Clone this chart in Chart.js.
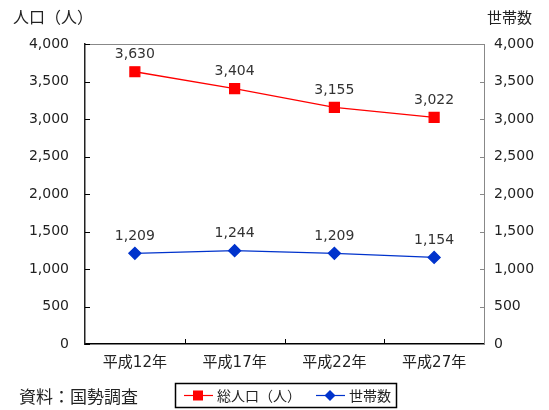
<!DOCTYPE html>
<html>
<head>
<meta charset="utf-8">
<script src="https://cdn.jsdelivr.net/npm/chart.js@4"></script>
<style>
  html, body { margin: 0; padding: 0; background: #fff; }
  #wrap { width: 549px; height: 410px; position: relative; }
</style>
</head>
<body>
<div id="wrap"><canvas id="popChart" width="549" height="410"></canvas></div>
<script>
// data
const categories = ['平成12年', '平成17年', '平成22年', '平成27年'];
const population = [3630, 3404, 3155, 3022];
const households = [1209, 1244, 1209, 1154];
const yTicks = [0, 500, 1000, 1500, 2000, 2500, 3000, 3500, 4000];

const FONT = '"DejaVu Sans", "Noto Sans CJK JP", sans-serif';
const JP = '"Noto Sans CJK JP", sans-serif';
const RED = '#ff0000';
const BLUE = '#0033cc';

function fmt(v) {
  return v.toLocaleString('en-US');
}

// labels, titles, inward ticks, top border, source note and legend
const extrasPlugin = {
  id: 'extras',
  afterDraw(chart) {
    const ctx = chart.ctx;
    const area = chart.chartArea;
    const x = chart.scales.x;
    const y = chart.scales.y;
    ctx.save();

    // top border
    ctx.strokeStyle = '#888';
    ctx.lineWidth = 1;
    ctx.beginPath();
    ctx.moveTo(area.left, area.top + 0.5);
    ctx.lineTo(area.right, area.top + 0.5);
    ctx.stroke();

    // inward ticks on the category axis
    ctx.strokeStyle = '#000';
    ctx.beginPath();
    for (let i = 1; i < categories.length; i++) {
      const px = Math.round((x.getPixelForValue(i - 1) + x.getPixelForValue(i)) / 2) + 0.5;
      ctx.moveTo(px, area.bottom);
      ctx.lineTo(px, area.bottom - 5);
    }
    ctx.stroke();

    // inward ticks on both value axes
    yTicks.forEach(v => {
      const py = Math.round(y.getPixelForValue(v)) + 0.5;
      ctx.strokeStyle = '#000';
      ctx.beginPath();
      ctx.moveTo(area.left, py); ctx.lineTo(area.left + 5, py);
      ctx.stroke();
      ctx.strokeStyle = '#888';
      ctx.beginPath();
      ctx.moveTo(area.right, py); ctx.lineTo(area.right - 4, py);
      ctx.stroke();
    });

    // value labels
    ctx.fillStyle = '#333';
    ctx.font = '14px ' + FONT;
    ctx.textAlign = 'center';
    ctx.textBaseline = 'bottom';
    chart.data.datasets.forEach((ds, di) => {
      chart.getDatasetMeta(di).data.forEach((pt, i) => {
        ctx.fillText(fmt(ds.data[i]), pt.x, pt.y - 10);
      });
    });

    // axis titles
    ctx.fillStyle = '#222';
    ctx.textBaseline = 'middle';
    ctx.textAlign = 'left';
    ctx.font = '16px ' + JP;
    ctx.fillText('人口（人）', 13, 17);
    ctx.font = '15px ' + JP;
    ctx.fillText('世帯数', 487, 17);

    // source note
    ctx.font = '17px ' + JP;
    ctx.fillText('資料：国勢調査', 19, 397);

    // legend box
    const lx = 175, ly = 383, lw = 221, lh = 24;
    ctx.strokeStyle = '#000';
    ctx.lineWidth = 1.5;
    ctx.strokeRect(lx + 0.5, ly + 0.5, lw, lh);
    const my = ly + lh / 2 + 0.5;
    // red item
    ctx.strokeStyle = RED;
    ctx.lineWidth = 1.2;
    ctx.beginPath();
    ctx.moveTo(184, my); ctx.lineTo(213, my);
    ctx.stroke();
    ctx.fillStyle = RED;
    ctx.fillRect(193, my - 5, 10, 10);
    // blue item
    ctx.strokeStyle = BLUE;
    ctx.beginPath();
    ctx.moveTo(316, my); ctx.lineTo(345, my);
    ctx.stroke();
    ctx.fillStyle = BLUE;
    ctx.beginPath();
    ctx.moveTo(330, my - 5.5); ctx.lineTo(335.5, my); ctx.lineTo(330, my + 5.5); ctx.lineTo(324.5, my);
    ctx.closePath();
    ctx.fill();
    ctx.fillStyle = '#222';
    ctx.font = '14px ' + JP;
    ctx.fillText('総人口（人）', 217, my);
    ctx.fillText('世帯数', 349, my);

    ctx.restore();
  }
};

const ctx = document.getElementById('popChart').getContext('2d');
new Chart(ctx, {
  type: 'line',
  data: {
    labels: categories,
    datasets: [
      {
        label: '総人口（人）',
        data: population,
        borderColor: RED,
        backgroundColor: RED,
        borderWidth: 1.3,
        pointStyle: 'rect',
        pointRadius: 7,
        pointHoverRadius: 7,
        yAxisID: 'y'
      },
      {
        label: '世帯数',
        data: households,
        borderColor: BLUE,
        backgroundColor: BLUE,
        borderWidth: 1.3,
        pointStyle: 'rectRot',
        pointRadius: 6,
        pointHoverRadius: 6,
        yAxisID: 'y1'
      }
    ]
  },
  options: {
    responsive: false,
    animation: false,
    layout: { padding: { top: 44, bottom: 0, left: 0, right: 0 } },
    plugins: {
      legend: { display: false },
      tooltip: { enabled: false }
    },
    scales: {
      x: {
        offset: true,
        grid: { display: true, drawOnChartArea: false, drawTicks: false, offset: true },
        border: { color: '#000', width: 1.5 },
        ticks: { color: '#222', font: { family: FONT, size: 15 }, padding: 10 },
        afterFit(scale) { scale.height = 66; }
      },
      y: {
        position: 'left',
        min: 0,
        max: 4000,
        afterBuildTicks(scale) { scale.ticks = yTicks.map(v => ({ value: v })); },
        grid: { drawOnChartArea: false, drawTicks: false },
        border: { color: '#222', width: 1.5 },
        ticks: { color: '#222', font: { family: FONT, size: 14 }, padding: 16, callback: v => fmt(v) },
        afterFit(scale) { scale.width = 85; }
      },
      y1: {
        position: 'right',
        min: 0,
        max: 4000,
        afterBuildTicks(scale) { scale.ticks = yTicks.map(v => ({ value: v })); },
        grid: { drawOnChartArea: false, drawTicks: false },
        border: { color: '#888', width: 1 },
        ticks: { color: '#222', font: { family: FONT, size: 14 }, padding: 10, callback: v => fmt(v) },
        afterFit(scale) { scale.width = 65; }
      }
    }
  },
  plugins: [extrasPlugin]
});
</script>
</body>
</html>
